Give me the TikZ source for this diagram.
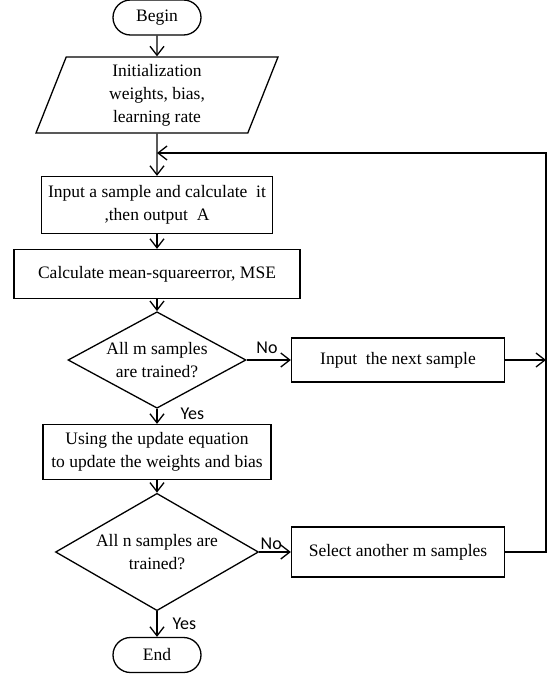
\documentclass[tikz,border=0pt]{standalone}
\usepackage{fontspec}
\setmainfont{Liberation Serif}
\newfontfamily\labelfont{Carlito}
\usetikzlibrary{shapes.geometric, shapes.misc, arrows.meta}

\begin{document}
\begin{tikzpicture}[x=1pt, y=-1pt,
    every node/.style={font=\fontsize{17.5}{23}\selectfont},
    flowline/.style={line width=1.3pt},
    arrowline/.style={flowline, -{Straight Barb[length=9pt, width=14pt]}},
    terminal/.style={flowline, draw, rounded rectangle, minimum width=88pt, minimum height=35pt, inner sep=0pt},
    iobox/.style={flowline, draw, trapezium, trapezium left angle=64, trapezium right angle=116, trapezium stretches body, minimum width=242pt, minimum height=76pt, inner sep=0pt, align=center},
    procbox/.style={flowline, draw, rectangle, inner sep=0pt, align=center},
    decision/.style={flowline, draw, diamond, inner sep=-10pt, align=center},
    answer/.style={font=\labelfont\fontsize{18}{20}\selectfont, inner sep=1pt}]

    \useasboundingbox (0, 0) rectangle (552, 677);

    % begin, initialization
    \node[terminal] (begin) at (157, 17.5) {Begin};
    \node[iobox] (init) at (157, 95) {Initialization\\weights, bias,\\learning rate};

    % inner loop over m samples
    \node[procbox, minimum width=231pt, minimum height=57pt] (input) at (157, 205) {Input a sample and calculate\ \ it\\,then output\ \ A};
    \node[procbox, minimum width=286pt, minimum height=49pt] (mse) at (157, 274) {Calculate mean-squareerror, MSE};
    \node[decision, minimum width=178pt, minimum height=86pt] (checkm) at (157, 360) {All m samples\\are trained?};
    \node[procbox, minimum width=213pt, minimum height=44pt] (next) at (398, 360) {Input\ \ the next sample};

    % update, check over n samples, end
    \node[procbox, minimum width=228pt, minimum height=55pt] (update) at (157, 452) {Using the update equation\\to update the weights and bias};
    \node[decision, minimum width=203pt, minimum height=107pt] (checkn) at (157, 552) {All n samples are\\trained?};
    \node[procbox, minimum width=213pt, minimum height=50pt] (select) at (398, 552) {Select another m samples};
    \node[terminal] (end) at (157, 655) {End};

    % loop-back corners
    \coordinate (rtop) at (546, 153);
    \coordinate (ltop) at (157, 153);

    % main flow
    \draw[arrowline] (begin) -- (init);
    \draw[arrowline] (init) -- (input);
    \draw[arrowline] (input) -- (mse);
    \draw[arrowline] (mse) -- (checkm);
    \draw[arrowline] (checkm) -- node[answer, pos=0.32, right=22pt] {Yes} (update);
    \draw[arrowline] (update) -- (checkn);
    \draw[arrowline] (checkn) -- node[answer, pos=0.5, right=14pt] {Yes} (end);

    % No branches and loop back
    \draw[arrowline] (checkm) -- node[answer, pos=0.46, above=5pt] {No} (next);
    \draw[arrowline] (checkn) -- node[answer, pos=0.38, above=1pt] {No} (select);
    \draw[arrowline] (next) -- (next -| rtop);
    \draw[arrowline] (select) -- (select -| rtop) -- (rtop) -- (ltop);
\end{tikzpicture}
\end{document}
